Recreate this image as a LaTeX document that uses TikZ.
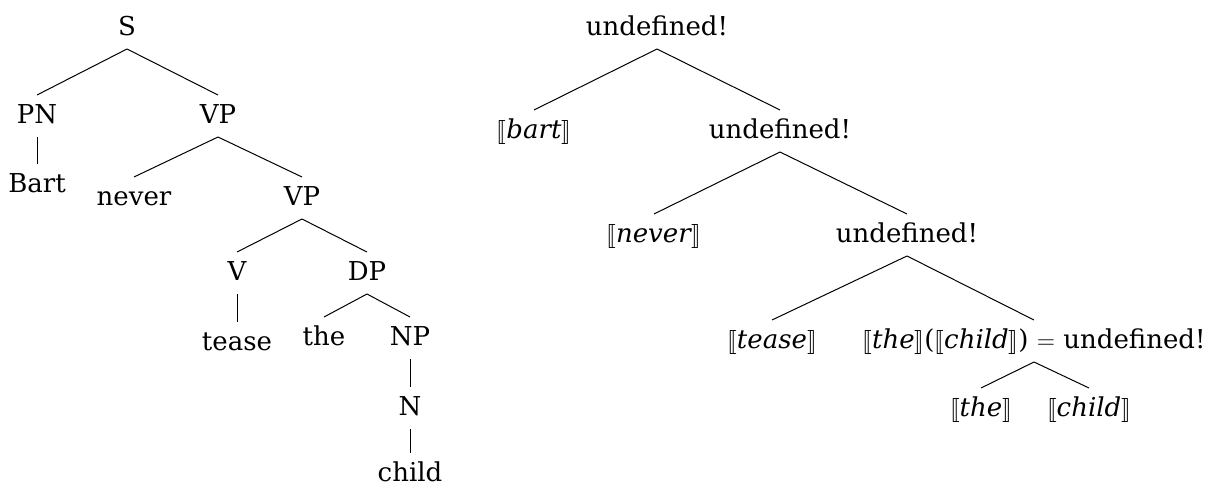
\documentclass[tikz,border=0pt]{standalone}
\usepackage{fontspec}
\setmainfont{DejaVu Serif}
\usepackage{stmaryrd}
\tikzset{
  lbl/.style={anchor=base, inner sep=0pt, outer sep=0pt,
              text height=14pt, text depth=7pt, font=\fontsize{13}{15}\selectfont},
  leaf/.style={lbl, text depth=0pt},
  edge/.style={line width=0.5pt}
}
\newcommand{\den}[1]{$\llbracket$\textit{#1}$\rrbracket$}
\begin{document}
\begin{tikzpicture}[x=0.5pt, y=-0.5pt]
\useasboundingbox (0,0) rectangle (1228,487);
% syntactic tree
\node[lbl] (s)    at (127,35)  {S};
\node[lbl] (pn)   at (37,123)  {PN};
\node[lbl] (vp1)  at (218,123) {VP};
\node[leaf] (bart) at (37,192)  {Bart};
\node[leaf] (nev)  at (134,205) {never};
\node[lbl] (vp2)  at (302,205) {VP};
\node[lbl] (v)    at (237,280) {V};
\node[lbl] (dp)   at (367,280) {DP};
\node[leaf] (teas) at (237,350) {tease};
\node[leaf] (the)  at (324,345) {the};
\node[lbl] (np)   at (410,345) {NP};
\node[lbl] (n)    at (410,415) {N};
\node[leaf] (chld) at (410,481) {child};
\foreach \p/\c in {s/pn, s/vp1, pn/bart, vp1/nev, vp1/vp2, vp2/v, vp2/dp,
                   v/teas, dp/the, dp/np, np/n, n/chld}
  \draw[edge] (\p.south) -- (\c.north);
% semantic tree
\node[lbl] (u1)   at (657,35)  {undefined!};
\node[leaf] (db)   at (534,138) {\den{bart}};
\node[lbl] (u2)   at (780,138) {undefined!};
\node[leaf] (dn)   at (654,242) {\den{never}};
\node[lbl] (u3)   at (907,242) {undefined!};
\node[leaf] (dt)   at (772,348) {\den{tease}};
\node[lbl] (app)  at (1034,348) {\den{the}(\den{child}) $=$ undefined!};
\node[leaf] (dth)  at (981,416) {\den{the}};
\node[leaf] (dch)  at (1089,416) {\den{child}};
\foreach \p/\c in {u1/db, u1/u2, u2/dn, u2/u3, u3/dt, u3/app, app/dth, app/dch}
  \draw[edge] (\p.south) -- (\c.north);
\end{tikzpicture}
\end{document}
